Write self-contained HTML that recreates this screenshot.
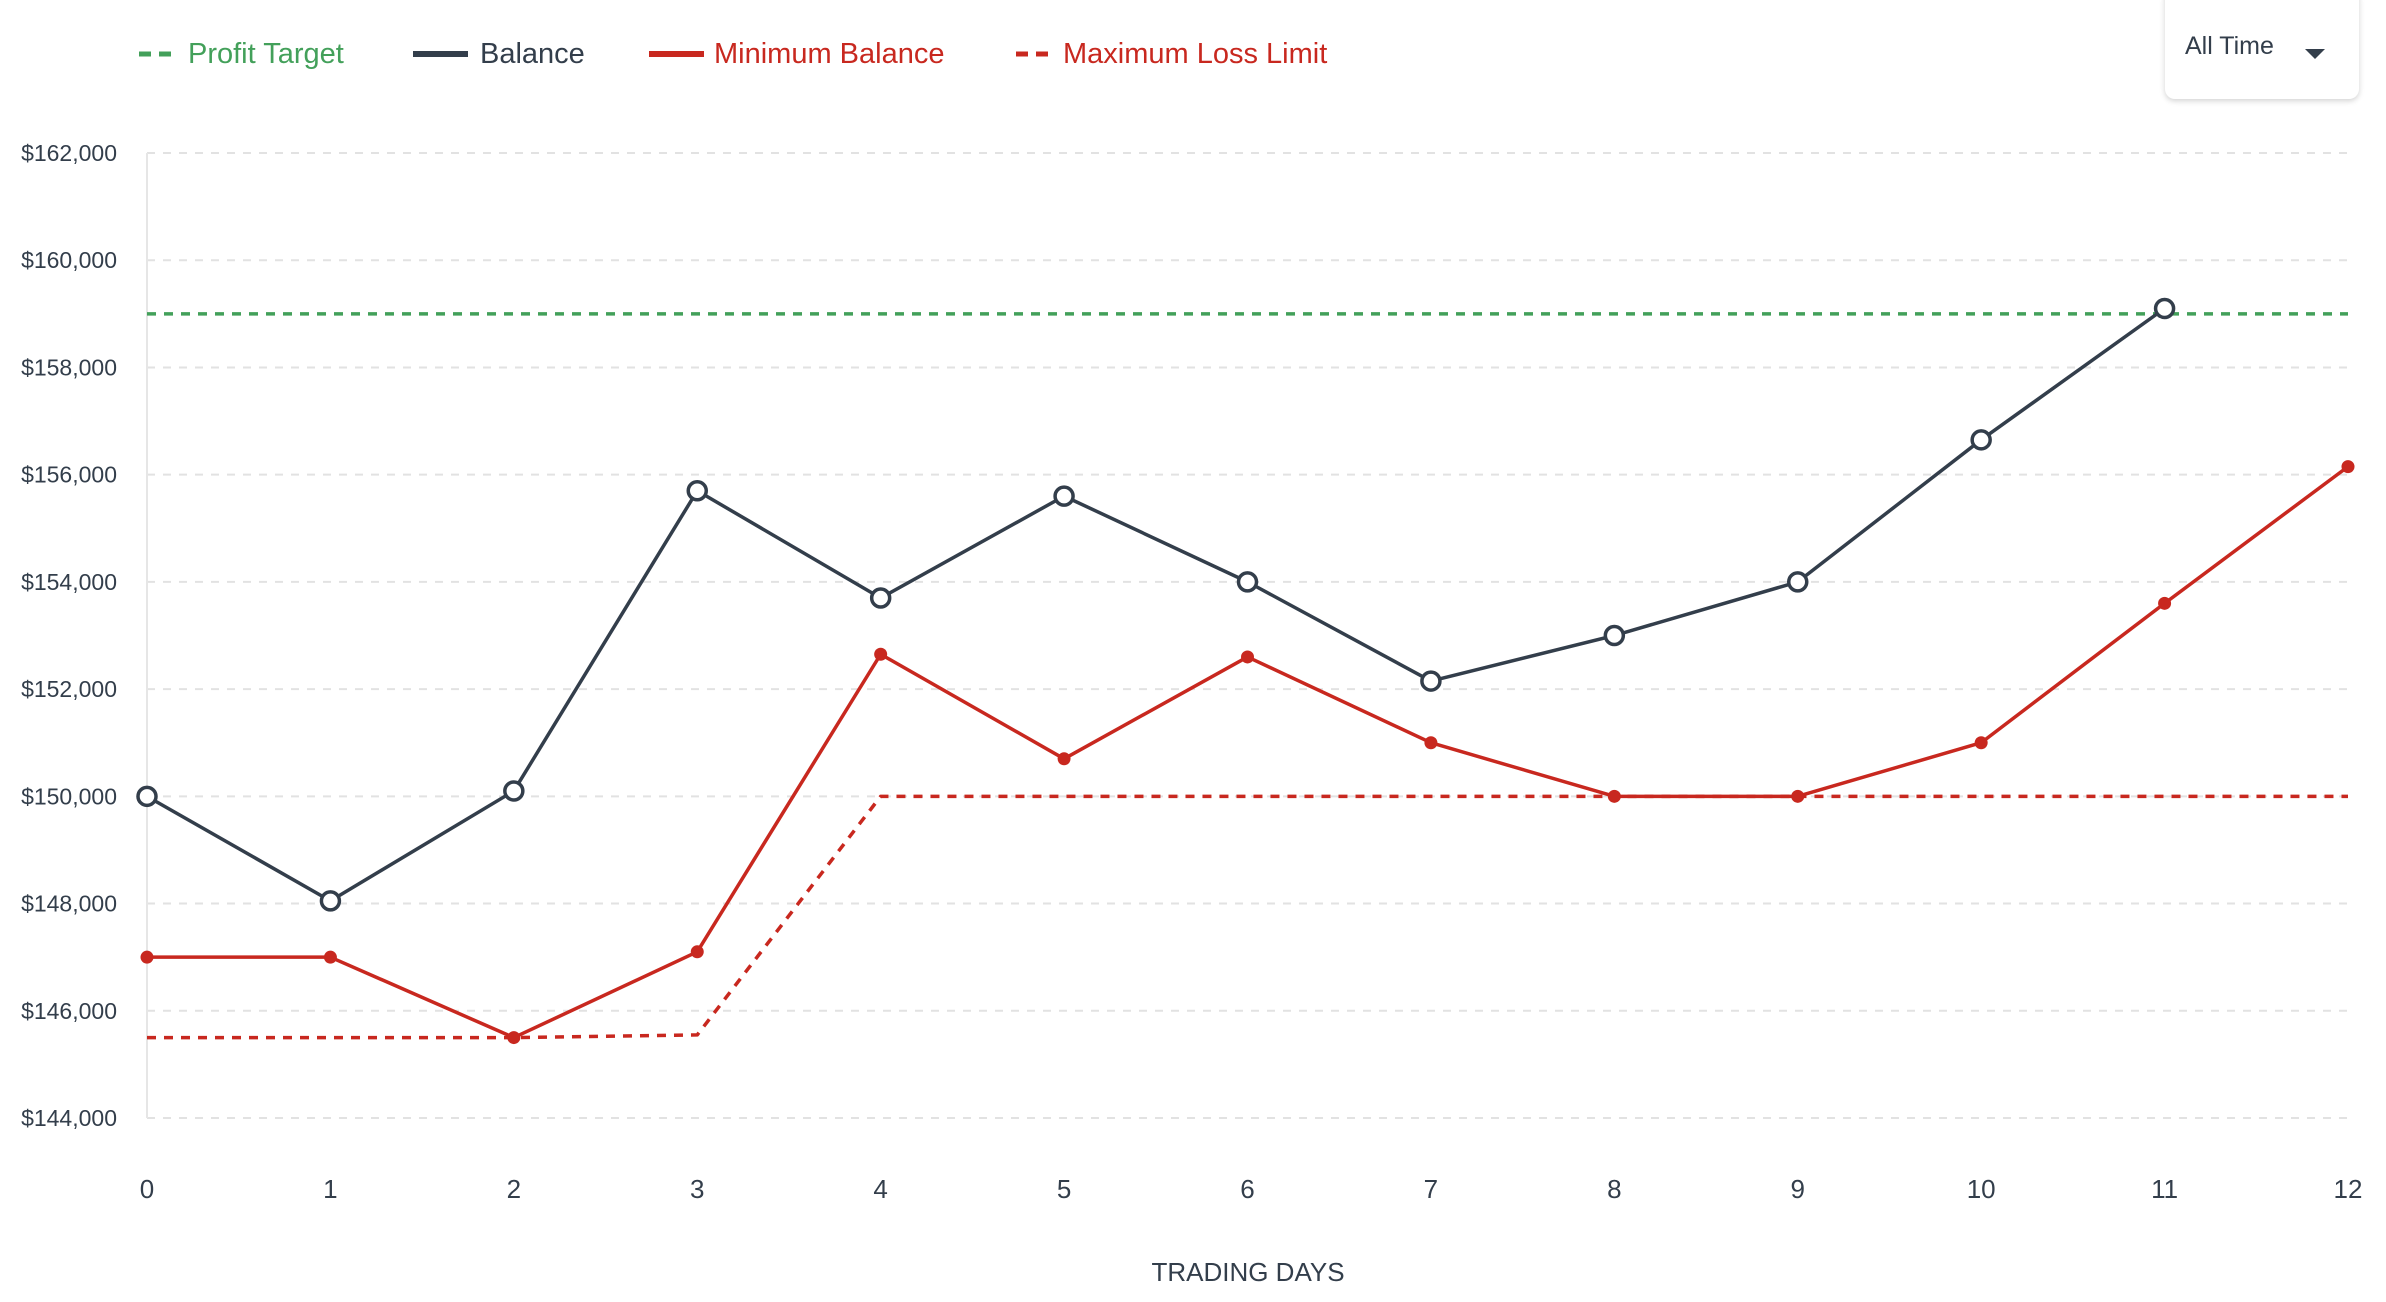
<!DOCTYPE html>
<html><head><meta charset="utf-8"><style>
html,body{margin:0;padding:0;background:#fff;width:2386px;height:1302px;overflow:hidden;font-family:"Liberation Sans",sans-serif}
.dd{position:absolute;left:2165px;top:-12px;width:194px;height:111px;border-radius:10px;background:#fff;box-shadow:0 2px 6px rgba(0,0,0,.18)}
</style></head><body>
<div class="dd">
<span style="position:absolute;left:20px;top:44px;font-size:25px;color:#333e4b">All Time</span>
<svg style="position:absolute;left:138px;top:59px" width="24" height="14"><path d="M2 2 L22 2 L12 12Z" fill="#333e4b"/></svg>
</div>
<svg id="chart" width="2386" height="1302" style="position:absolute;left:0;top:0">
<g font-size="29">
<g><line x1="139" y1="54" x2="177" y2="54" stroke="#43a05a" stroke-width="5" stroke-dasharray="12,8"/><text x="188" y="63" fill="#43a05a">Profit Target</text></g>
<g><line x1="413" y1="54" x2="468" y2="54" stroke="#333e4b" stroke-width="6"/><text x="480" y="63" fill="#333e4b">Balance</text></g>
<g><line x1="649" y1="54" x2="704" y2="54" stroke="#c8281f" stroke-width="6"/><text x="714" y="63" fill="#c8281f">Minimum Balance</text></g>
<g><line x1="1016" y1="54" x2="1054" y2="54" stroke="#c8281f" stroke-width="5" stroke-dasharray="12,8"/><text x="1063" y="63" fill="#c8281f">Maximum Loss Limit</text></g>
</g>
<g id="grid"></g><g id="axes"></g><g id="series"></g>
</svg>
<script>
const days=[0,1,2,3,4,5,6,7,8,9,10,11,12];
const yTicks=[144000,146000,148000,150000,152000,154000,156000,158000,160000,162000];
const balance=[150000,148050,150100,155700,153700,155600,154000,152150,153000,154000,156650,159100];
const minBalance=[147000,147000,145500,147100,152650,150700,152600,151000,150000,150000,151000,153600,156150];
const maxLoss=[145500,145500,145500,145550,150000,150000,150000,150000,150000,150000,150000,150000,150000];
const profitTarget=[159000,159000];
const profitDays=[0,12];
const NS='http://www.w3.org/2000/svg';
const X0=147,X1=2348,Y0=1118,Y1=153;
const x=d=>X0+(d-0)/(12-0)*(X1-X0);
const y=v=>Y0-(v-144000)/(162000-144000)*(Y0-Y1);
function mk(tag,attrs,parent,txt){const e=document.createElementNS(NS,tag);for(const k in attrs)e.setAttribute(k,attrs[k]);if(txt!==undefined)e.textContent=txt;parent.appendChild(e);return e;}
const grid=document.getElementById('grid'),axes=document.getElementById('axes'),series=document.getElementById('series');
yTicks.forEach(t=>{
 const l=mk('line',{x1:X0,x2:X1,y1:y(t),y2:y(t),stroke:'#e2e2e2','stroke-width':2,'stroke-dasharray':'8,8'},grid);
 
 
 const tx=mk('text',{x:117,y:y(t)+8,'text-anchor':'end','font-size':23,fill:'#333e4b'},axes,'$'+t.toLocaleString('en-US'));
 
 
});
const ax=mk('line',{x1:X0,x2:X0,y1:Y1,y2:Y0,stroke:'#e6e6e6','stroke-width':2},axes);


days.forEach(d=>{
 const tx=mk('text',{x:x(d),y:1198,'text-anchor':'middle','font-size':26,fill:'#333e4b'},axes,String(d));
 
 
});
const xt=mk('text',{x:1248,y:1281,'text-anchor':'middle','font-size':26,fill:'#333e4b'},axes,'TRADING DAYS');


function line(xs,vals,stroke,dash,name){
 const pts=vals.map((v,i)=>x(xs[i])+','+y(v)).join(' ');
 const p=mk('polyline',{points:pts,fill:'none',stroke:stroke,'stroke-width':3.5,'stroke-linejoin':'round'},series);
 if(dash)p.setAttribute('stroke-dasharray',dash);
 
 
}
line(profitDays,profitTarget,'#43a05a','9,8','profit-target-line');
line(days,maxLoss,'#c8281f','9,8','maximum-loss-limit-line');
line(days,minBalance,'#c8281f',null,'minimum-balance-line');
line(days,balance,'#333e4b',null,'balance-line');
minBalance.forEach((v,i)=>{
 const c=mk('circle',{cx:x(days[i]),cy:y(v),r:6.5,fill:'#c8281f'},series);
 
 
});
balance.forEach((v,i)=>{
 const c=mk('circle',{cx:x(days[i]),cy:y(v),r:9,fill:'#fff',stroke:'#333e4b','stroke-width':3.5},series);
 
 
});
</script>
</body></html>
